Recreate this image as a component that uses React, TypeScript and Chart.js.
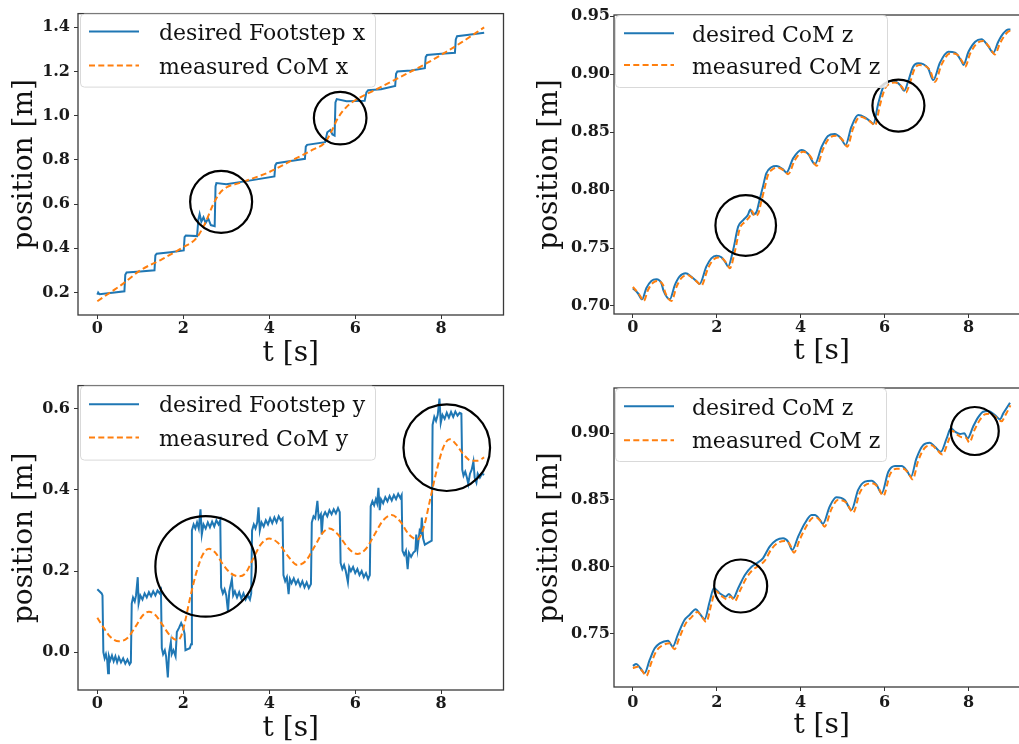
import React, { useEffect, useRef } from "react";
import { Chart, registerables } from "chart.js";

Chart.register(...registerables);

const BLUE = "#1f77b4";
const ORANGE = "#ff7f0e";
const FAMILY = "'DejaVu Serif', serif";

// ---------- shared ticks ----------
const xTickValues = [0, 2, 4, 6, 8];
const xTitle = "t [s]";
const yTitle = "position [m]";

// ---------- panel 1: footstep x ----------
const footXTimes = [0, 0.02, 0.05, 0.3, 0.63, 0.65, 0.68, 1.0, 1.33, 1.35, 1.38, 1.7, 2.01, 2.03, 2.06, 2.32, 2.35, 2.38, 2.42, 2.47, 2.52, 2.58, 2.64, 2.73, 2.75, 2.77, 3.0, 3.5, 4.12, 4.14, 4.17, 4.5, 4.83, 4.85, 4.88, 5.3, 5.35, 5.42, 5.47, 5.52, 5.54, 5.57, 5.8, 6.22, 6.26, 6.3, 6.6, 6.93, 6.95, 6.98, 7.3, 7.62, 7.64, 7.67, 8.0, 8.32, 8.34, 8.37, 8.6, 9.0];
const desiredFootstepX = [0.19, 0.2, 0.192, 0.198, 0.205, 0.28, 0.29, 0.295, 0.3, 0.368, 0.375, 0.382, 0.39, 0.45, 0.458, 0.455, 0.53, 0.555, 0.52, 0.54, 0.515, 0.535, 0.505, 0.5, 0.68, 0.695, 0.69, 0.705, 0.725, 0.775, 0.785, 0.795, 0.805, 0.86, 0.868, 0.88, 0.925, 0.935, 0.915, 0.91, 1.06, 1.075, 1.065, 1.068, 1.105, 1.115, 1.12, 1.135, 1.19, 1.2, 1.205, 1.215, 1.265, 1.275, 1.28, 1.285, 1.345, 1.36, 1.365, 1.375];
const comXTimes = [0, 0.3, 0.6, 1.0, 1.5, 2.0, 2.3, 2.5, 2.7, 2.85, 3.0, 3.3, 3.6, 4.0, 4.5, 5.0, 5.3, 5.45, 5.6, 5.8, 6.0, 6.5, 7.0, 7.5, 8.0, 8.5, 9.0];
const measuredCoMX = [0.16, 0.2, 0.24, 0.3, 0.35, 0.405, 0.445, 0.51, 0.6, 0.65, 0.675, 0.695, 0.715, 0.745, 0.795, 0.845, 0.88, 0.93, 0.99, 1.04, 1.07, 1.12, 1.17, 1.22, 1.275, 1.335, 1.4];
const circlesXTimes = [2.88, 5.65];
const circlesXValues = [0.61, 0.989];
const yTicksFootX = [0.2, 0.4, 0.6, 0.8, 1.0, 1.2, 1.4];

// ---------- panel 2: CoM z (top) ----------
const comZ1Times = [0, 0.12, 0.22, 0.32, 0.44, 0.56, 0.68, 0.73, 0.88, 1.0, 1.11, 1.26, 1.39, 1.53, 1.59, 1.75, 1.87, 1.99, 2.11, 2.21, 2.27, 2.39, 2.51, 2.63, 2.74, 2.8, 2.86, 2.95, 3.02, 3.1, 3.18, 3.3, 3.42, 3.58, 3.66, 3.82, 4.02, 4.18, 4.34, 4.5, 4.65, 4.81, 4.96, 5.07, 5.21, 5.37, 5.53, 5.67, 5.73, 5.85, 5.97, 6.09, 6.21, 6.37, 6.47, 6.56, 6.68, 6.8, 6.92, 7.04, 7.16, 7.32, 7.52, 7.68, 7.84, 7.88, 8.0, 8.16, 8.31, 8.47, 8.59, 8.71, 8.83, 8.95, 9.0];
const desiredCoMZ1 = [0.7153, 0.711, 0.7058, 0.7153, 0.7216, 0.723, 0.7196, 0.7132, 0.7058, 0.718, 0.7253, 0.7282, 0.7253, 0.721, 0.719, 0.7339, 0.7411, 0.7434, 0.742, 0.7374, 0.734, 0.7483, 0.7684, 0.7741, 0.7784, 0.7833, 0.779, 0.7813, 0.7914, 0.8029, 0.8144, 0.8196, 0.8207, 0.8178, 0.815, 0.8273, 0.8345, 0.831, 0.8224, 0.8373, 0.8466, 0.8483, 0.8446, 0.8388, 0.8546, 0.8647, 0.8627, 0.8589, 0.8569, 0.8747, 0.889, 0.8934, 0.8942, 0.8905, 0.8856, 0.8934, 0.9063, 0.9092, 0.9086, 0.9049, 0.8948, 0.9098, 0.9192, 0.9184, 0.9106, 0.9078, 0.9192, 0.9279, 0.93, 0.9241, 0.9184, 0.9279, 0.935, 0.9385, 0.9385];
const measZ1Times = [0, 0.16, 0.26, 0.36, 0.48, 0.6, 0.72, 0.77, 0.92, 1.04, 1.15, 1.3, 1.43, 1.57, 1.63, 1.79, 1.91, 2.03, 2.15, 2.25, 2.31, 2.43, 2.55, 2.67, 2.78, 2.84, 2.9, 2.99, 3.06, 3.14, 3.22, 3.34, 3.46, 3.62, 3.7, 3.86, 4.06, 4.22, 4.38, 4.54, 4.69, 4.85, 5.0, 5.11, 5.25, 5.41, 5.57, 5.71, 5.77, 5.89, 6.01, 6.13, 6.25, 6.41, 6.51, 6.6, 6.72, 6.84, 6.96, 7.08, 7.2, 7.36, 7.56, 7.72, 7.88, 7.92, 8.04, 8.2, 8.35, 8.51, 8.63, 8.75, 8.87, 8.98, 9.0];
const measuredCoMZ1 = [0.7165, 0.7095, 0.7043, 0.7138, 0.7201, 0.7215, 0.7181, 0.7117, 0.7043, 0.7165, 0.7238, 0.7267, 0.7238, 0.7195, 0.7175, 0.7324, 0.7396, 0.7419, 0.7405, 0.7359, 0.7325, 0.7468, 0.7669, 0.7726, 0.7769, 0.7818, 0.7775, 0.7798, 0.7899, 0.8014, 0.8129, 0.8181, 0.8192, 0.8163, 0.8135, 0.8258, 0.833, 0.8295, 0.8209, 0.8358, 0.8451, 0.8468, 0.8431, 0.8373, 0.8531, 0.8632, 0.8612, 0.8574, 0.8554, 0.8732, 0.8875, 0.8919, 0.8927, 0.889, 0.8841, 0.8919, 0.9048, 0.9077, 0.9071, 0.9034, 0.8933, 0.9083, 0.9177, 0.9169, 0.9091, 0.9063, 0.9177, 0.9264, 0.9285, 0.9226, 0.9169, 0.9264, 0.9335, 0.937, 0.937];
const circlesZ1Times = [2.69, 6.33];
const circlesZ1Values = [0.7694, 0.8728];
const yTicksZ1 = [0.7, 0.75, 0.8, 0.85, 0.9, 0.95];

// ---------- panel 3: footstep y ----------
const footYTimes = [0, 0.1, 0.12, 0.14, 0.17, 0.2, 0.23, 0.25, 0.27, 0.3, 0.34, 0.38, 0.42, 0.46, 0.5, 0.55, 0.6, 0.65, 0.7, 0.75, 0.78,
  0.8, 0.83, 0.87, 0.9, 0.94, 0.96, 1.0, 1.05, 1.1, 1.15, 1.2, 1.25, 1.3, 1.35, 1.4, 1.45, 1.48,
  1.5, 1.53, 1.57, 1.6, 1.64, 1.67, 1.71, 1.73, 1.77, 1.82, 1.85, 1.9, 1.95, 2.0, 2.03, 2.05, 2.15, 2.18,
  2.2, 2.24, 2.28, 2.32, 2.36, 2.4, 2.43, 2.47, 2.52, 2.57, 2.62, 2.67, 2.72, 2.77, 2.82, 2.86,
  2.88, 2.92, 2.96, 3.0, 3.04, 3.07, 3.13, 3.16, 3.2, 3.25, 3.3, 3.35, 3.4, 3.45, 3.5, 3.55, 3.58,
  3.6, 3.64, 3.68, 3.72, 3.75, 3.78, 3.82, 3.87, 3.92, 3.97, 4.02, 4.07, 4.12, 4.17, 4.22, 4.27, 4.31,
  4.33, 4.37, 4.41, 4.45, 4.48, 4.52, 4.57, 4.62, 4.67, 4.72, 4.77, 4.82, 4.87, 4.92, 4.97,
  4.99, 5.03, 5.07, 5.12, 5.15, 5.2, 5.22, 5.25, 5.3, 5.35, 5.4, 5.45, 5.5, 5.55, 5.6, 5.64,
  5.66, 5.7, 5.74, 5.78, 5.83, 5.86, 5.9, 5.95, 6.0, 6.05, 6.1, 6.15, 6.2, 6.25, 6.3, 6.34,
  6.36, 6.4, 6.44, 6.48, 6.51, 6.54, 6.57, 6.6, 6.65, 6.7, 6.75, 6.8, 6.85, 6.9, 6.95, 7.0, 7.05, 7.08,
  7.1, 7.14, 7.18, 7.22, 7.25, 7.3, 7.35, 7.4, 7.42, 7.45, 7.5, 7.53, 7.55, 7.58, 7.62, 7.7, 7.78,
  7.8, 7.84, 7.88, 7.92, 7.96, 7.99, 8.03, 8.08, 8.13, 8.18, 8.23, 8.28, 8.33, 8.38, 8.43, 8.47,
  8.49, 8.52, 8.56, 8.6, 8.63, 8.67, 8.71, 8.75, 8.78, 8.82, 8.85, 8.9, 8.95, 9.0];
const desiredFootstepY = [0.155, 0.145, 0.14, 0.0, -0.015, -0.005, -0.02, -0.052, -0.01, -0.02, -0.008, -0.022, -0.01, -0.025, -0.012, -0.025, -0.015, -0.028, -0.018, -0.03, -0.025,
  0.12, 0.135, 0.125, 0.14, 0.185, 0.12, 0.14, 0.13, 0.145, 0.135, 0.148, 0.138, 0.15, 0.14, 0.152, 0.145, 0.152,
  0.01, -0.005, 0.005, -0.01, -0.062, 0.0, 0.025, -0.005, 0.005, -0.01, 0.05, 0.06, 0.072, 0.06, 0.045, 0.005, 0.01, 0.02,
  0.3, 0.315, 0.305, 0.32, 0.305, 0.352, 0.29, 0.315, 0.305, 0.32, 0.308, 0.322, 0.31, 0.325, 0.315, 0.325,
  0.16, 0.145, 0.155, 0.14, 0.1, 0.15, 0.18, 0.14, 0.15, 0.135, 0.148, 0.132, 0.145, 0.13, 0.14, 0.13, 0.145,
  0.3, 0.315, 0.305, 0.32, 0.357, 0.3, 0.32, 0.31, 0.325, 0.315, 0.33, 0.318, 0.332, 0.32, 0.335, 0.325, 0.33,
  0.19, 0.175, 0.185, 0.143, 0.18, 0.17, 0.182, 0.168, 0.178, 0.163, 0.175, 0.16, 0.172, 0.158, 0.168,
  0.32, 0.335, 0.33, 0.373, 0.33, 0.34, 0.29, 0.335, 0.345, 0.335, 0.35, 0.34, 0.352, 0.342, 0.355, 0.345,
  0.22, 0.205, 0.215, 0.2, 0.172, 0.21, 0.2, 0.21, 0.195, 0.205, 0.19, 0.2, 0.185, 0.195, 0.18, 0.19,
  0.36, 0.372, 0.362, 0.377, 0.367, 0.405, 0.35, 0.377, 0.367, 0.382, 0.372, 0.385, 0.374, 0.387, 0.377, 0.39, 0.38, 0.387,
  0.25, 0.24, 0.25, 0.205, 0.245, 0.235, 0.245, 0.25, 0.29, 0.255, 0.3, 0.295, 0.332, 0.28, 0.265, 0.27, 0.275,
  0.56, 0.58, 0.57, 0.585, 0.625, 0.565, 0.585, 0.575, 0.59, 0.578, 0.592, 0.58, 0.593, 0.583, 0.59, 0.588,
  0.45, 0.435, 0.445, 0.43, 0.415, 0.44, 0.45, 0.47, 0.43, 0.418, 0.44, 0.43, 0.44, 0.437];
const comYTimes = [0, 0.15, 0.3, 0.5, 0.7, 0.9, 1.05, 1.2, 1.35, 1.5, 1.7, 1.85, 1.95, 2.05, 2.15, 2.3, 2.45, 2.6, 2.75, 2.9, 3.1, 3.3, 3.45, 3.6, 3.8, 4.0, 4.2, 4.45, 4.65, 4.85, 5.05, 5.25, 5.4, 5.6, 5.85, 6.05, 6.25, 6.45, 6.65, 6.85, 7.05, 7.25, 7.45, 7.6, 7.75, 7.9, 8.05, 8.2, 8.35, 8.5, 8.7, 8.85, 9.0];
const measuredCoMY = [0.085, 0.06, 0.038, 0.027, 0.035, 0.065, 0.09, 0.1, 0.092, 0.07, 0.04, 0.03, 0.04, 0.08, 0.13, 0.195, 0.24, 0.255, 0.245, 0.22, 0.195, 0.187, 0.195, 0.225, 0.265, 0.28, 0.27, 0.235, 0.215, 0.225, 0.26, 0.295, 0.305, 0.29, 0.255, 0.242, 0.255, 0.29, 0.325, 0.338, 0.322, 0.29, 0.278, 0.31, 0.38, 0.45, 0.505, 0.525, 0.512, 0.49, 0.472, 0.472, 0.48];
const circlesYTimes = [2.52, 8.13];
const circlesYValues = [0.2115, 0.504];
const yTicksFootY = [0.0, 0.2, 0.4, 0.6];

// ---------- panel 4: CoM z (bottom) ----------
const comZ2Times = [0, 0.08, 0.18, 0.28, 0.4, 0.52, 0.64, 0.84, 0.95, 1.07, 1.23, 1.35, 1.5, 1.59, 1.71, 1.83, 1.93, 2.07, 2.21, 2.29, 2.39, 2.51, 2.67, 2.83, 2.95, 3.1, 3.26, 3.42, 3.58, 3.7, 3.8, 3.94, 4.1, 4.26, 4.34, 4.46, 4.53, 4.69, 4.85, 5.05, 5.21, 5.37, 5.53, 5.69, 5.81, 5.93, 6.09, 6.25, 6.41, 6.53, 6.63, 6.76, 6.92, 7.08, 7.2, 7.34, 7.48, 7.58, 7.68, 7.8, 7.9, 7.98, 8.11, 8.23, 8.35, 8.47, 8.63, 8.75, 8.83, 8.99];
const desiredCoMZ2 = [0.7261, 0.7276, 0.7244, 0.7207, 0.7306, 0.7393, 0.743, 0.745, 0.7405, 0.7493, 0.7604, 0.7642, 0.7684, 0.7654, 0.761, 0.7741, 0.7841, 0.7804, 0.7778, 0.7799, 0.7766, 0.7841, 0.794, 0.8002, 0.8027, 0.8065, 0.8152, 0.8201, 0.8214, 0.8189, 0.8127, 0.8226, 0.8326, 0.8388, 0.8388, 0.8351, 0.8321, 0.845, 0.852, 0.85, 0.8425, 0.8575, 0.8637, 0.8644, 0.8612, 0.855, 0.8711, 0.8754, 0.8754, 0.8719, 0.8674, 0.8811, 0.891, 0.8928, 0.8898, 0.886, 0.896, 0.9035, 0.901, 0.8993, 0.8998, 0.896, 0.9047, 0.9117, 0.9159, 0.9164, 0.9134, 0.9102, 0.9147, 0.9226];
const measZ2Times = [0, 0.12, 0.22, 0.32, 0.44, 0.56, 0.68, 0.88, 0.99, 1.11, 1.27, 1.39, 1.54, 1.63, 1.75, 1.87, 1.97, 2.11, 2.25, 2.33, 2.43, 2.55, 2.71, 2.87, 2.99, 3.14, 3.3, 3.46, 3.62, 3.74, 3.84, 3.98, 4.14, 4.3, 4.38, 4.5, 4.57, 4.73, 4.89, 5.09, 5.25, 5.41, 5.57, 5.73, 5.85, 5.97, 6.13, 6.29, 6.45, 6.57, 6.67, 6.8, 6.96, 7.12, 7.24, 7.38, 7.52, 7.62, 7.72, 7.84, 7.94, 8.02, 8.15, 8.27, 8.39, 8.51, 8.67, 8.79, 8.87, 9.0];
const measuredCoMZ2 = [0.7245, 0.7256, 0.7224, 0.7187, 0.7286, 0.7373, 0.741, 0.743, 0.7385, 0.7473, 0.7584, 0.7622, 0.7664, 0.7634, 0.759, 0.7721, 0.7821, 0.7784, 0.7758, 0.7779, 0.7746, 0.7821, 0.792, 0.7982, 0.8007, 0.8045, 0.8132, 0.8181, 0.8194, 0.8169, 0.8107, 0.8206, 0.8306, 0.8368, 0.8368, 0.8331, 0.8301, 0.843, 0.85, 0.848, 0.8405, 0.8555, 0.8617, 0.8624, 0.8592, 0.853, 0.8691, 0.8734, 0.8734, 0.8699, 0.8654, 0.8791, 0.889, 0.8908, 0.8878, 0.884, 0.894, 0.9015, 0.899, 0.8968, 0.8965, 0.893, 0.9027, 0.9097, 0.9139, 0.9144, 0.9114, 0.9087, 0.9127, 0.9206];
const circlesZ2Times = [2.57, 8.15];
const circlesZ2Values = [0.7858, 0.9015];
const yTicksZ2 = [0.75, 0.8, 0.85, 0.9];

// ---------- helpers ----------
const pts = (t: number[], v: number[]) => t.map((x, i) => ({ x, y: v[i] }));

type LegendCfg = {
  dx: number; dy: number; w: number; h: number;
  rows: number[]; bases: number[]; textX: number; labels: string[];
};

type PanelCfg = {
  left: number; top: number; width: number; height: number;
  padTop: number; padRight: number; yAxisWidth: number; xAxisHeight: number;
  yMin: number; yMax: number; yTicks: number[]; yDecimals: number;
  yTickPad: number; xTickPad: number; yTitlePad: number; xTitlePad: number;
  blue: { x: number; y: number }[]; orange: { x: number; y: number }[];
  blueSteps: boolean;
  circles: { x: number; y: number }[]; radii: number[];
  legend: LegendCfg;
};

function makeOverlay(cfg: PanelCfg) {
  const L = cfg.legend;
  return {
    id: "frameAndLegend",
    afterDatasetsDraw(chart: any) {
      const { ctx, chartArea: a, scales } = chart;
      ctx.save();
      // annotation circles, placed through the chart scales
      ctx.strokeStyle = "#000";
      ctx.lineWidth = 2.2;
      ctx.setLineDash([]);
      cfg.circles.forEach((c, i) => {
        const px = scales.x.getPixelForValue(c.x);
        const py = scales.y.getPixelForValue(c.y);
        ctx.beginPath();
        ctx.arc(px, py, cfg.radii[i], 0, Math.PI * 2);
        ctx.stroke();
      });
      // axes frame
      ctx.strokeStyle = "#3a3a3a";
      ctx.lineWidth = 1.3;
      ctx.strokeRect(a.left, a.top, a.right - a.left, a.bottom - a.top);
      // legend box
      const x0 = a.left + L.dx;
      const y0 = a.top + L.dy;
      ctx.beginPath();
      (ctx as any).roundRect(x0 + 0.5, y0 + 0.5, L.w, L.h, 4);
      ctx.fillStyle = "rgba(255,255,255,0.85)";
      ctx.fill();
      ctx.strokeStyle = "#d9d9d9";
      ctx.lineWidth = 1;
      ctx.stroke();
      const colors = [BLUE, ORANGE];
      const dashes = [[], [6, 3.3]];
      L.labels.forEach((label, i) => {
        ctx.beginPath();
        ctx.strokeStyle = colors[i];
        ctx.lineWidth = 2;
        ctx.setLineDash(dashes[i]);
        ctx.moveTo(x0 + 9, y0 + L.rows[i]);
        ctx.lineTo(x0 + 59, y0 + L.rows[i]);
        ctx.stroke();
        ctx.setLineDash([]);
        ctx.fillStyle = "#111";
        ctx.font = `22px ${FAMILY}`;
        ctx.textAlign = "left";
        ctx.textBaseline = "alphabetic";
        ctx.fillText(label, x0 + L.textX, y0 + L.bases[i]);
      });
      ctx.restore();
    },
  };
}

function Panel({ cfg }: { cfg: PanelCfg }) {
  const ref = useRef<HTMLCanvasElement>(null);
  useEffect(() => {
    const tickFont = { family: FAMILY, size: 16, weight: "bold" as const };
    const titleFont = { family: FAMILY, size: 28 };
    const grid = { display: true, drawOnChartArea: false, drawTicks: true, tickLength: 4, color: "#333", lineWidth: 1 };
    const chart = new Chart(ref.current as HTMLCanvasElement, {
      type: "line",
      data: {
        datasets: [
          {
            label: "measured",
            data: cfg.orange,
            borderColor: ORANGE,
            borderWidth: 2,
            borderDash: [6, 3.3],
            pointRadius: 0,
            fill: false,
            tension: 0,
            cubicInterpolationMode: "monotone",
          },
          {
            label: "desired",
            data: cfg.blue,
            borderColor: BLUE,
            borderWidth: 2,
            pointRadius: 0,
            fill: false,
            tension: 0,
            cubicInterpolationMode: cfg.blueSteps ? "default" : "monotone",
          },
        ],
      },
      options: {
        animation: false,
        responsive: false,
        maintainAspectRatio: false,
        devicePixelRatio: 1,
        events: [],
        layout: { padding: { left: 0, top: cfg.padTop, right: cfg.padRight, bottom: 0 } },
        plugins: { legend: { display: false }, tooltip: { enabled: false } },
        scales: {
          x: {
            type: "linear",
            min: -0.45,
            max: 9.45,
            afterBuildTicks: (s: any) => { s.ticks = xTickValues.map((v) => ({ value: v })); },
            afterFit: (s: any) => { s.height = cfg.xAxisHeight; },
            ticks: { font: tickFont, color: "#1a1a1a", padding: cfg.xTickPad, maxRotation: 0, callback: (v: any) => String(v) },
            grid,
            border: { display: false },
            title: { display: true, text: xTitle, font: titleFont, color: "#111", padding: { top: 0, bottom: cfg.xTitlePad } },
          },
          y: {
            type: "linear",
            min: cfg.yMin,
            max: cfg.yMax,
            afterBuildTicks: (s: any) => { s.ticks = cfg.yTicks.map((v) => ({ value: v })); },
            afterFit: (s: any) => { s.width = cfg.yAxisWidth; },
            ticks: { font: tickFont, color: "#1a1a1a", padding: cfg.yTickPad, callback: (v: any) => Number(v).toFixed(cfg.yDecimals) },
            grid,
            border: { display: false },
            title: { display: true, text: yTitle, font: titleFont, color: "#111", padding: { top: cfg.yTitlePad, bottom: 0 } },
          },
        },
      },
      plugins: [makeOverlay(cfg)],
    } as any);
    return () => chart.destroy();
  }, [cfg]);
  return (
    <canvas
      ref={ref}
      width={cfg.width}
      height={cfg.height}
      style={{ position: "absolute", left: cfg.left, top: cfg.top, width: cfg.width, height: cfg.height }}
    />
  );
}

const panels: PanelCfg[] = [
  {
    left: 0, top: 0, width: 510, height: 372,
    padTop: 10, padRight: 6.5, yAxisWidth: 78, xAxisHeight: 57,
    yMin: 0.098, yMax: 1.462, yTicks: yTicksFootX, yDecimals: 1,
    yTickPad: 4, xTickPad: 0, yTitlePad: 8, xTitlePad: 1.7,
    blue: pts(footXTimes, desiredFootstepX), orange: pts(comXTimes, measuredCoMX),
    blueSteps: true,
    circles: pts(circlesXTimes, circlesXValues), radii: [31, 26.3],
    legend: { dx: 2, dy: 0, w: 295, h: 73, rows: [18, 52], bases: [26, 60], textX: 79, labels: ["desired Footstep x", "measured CoM x"] },
  },
  {
    left: 510, top: 0, width: 520, height: 372,
    padTop: 15, padRight: 0.7, yAxisWidth: 104, xAxisHeight: 58,
    yMin: 0.6931, yMax: 0.9509, yTicks: yTicksZ1, yDecimals: 2,
    yTickPad: 0, xTickPad: 0, yTitlePad: 22.7, xTitlePad: 3.2,
    blue: pts(comZ1Times, desiredCoMZ1), orange: pts(measZ1Times, measuredCoMZ1),
    blueSteps: false,
    circles: pts(circlesZ1Times, circlesZ1Values), radii: [30.3, 26],
    legend: { dx: 1, dy: 0, w: 272, h: 72, rows: [18.3, 50], bases: [26.7, 59], textX: 77, labels: ["desired CoM z", "measured CoM z"] },
  },
  {
    left: 0, top: 372, width: 510, height: 380,
    padTop: 13, padRight: 6.5, yAxisWidth: 78, xAxisHeight: 62,
    yMin: -0.093, yMax: 0.657, yTicks: yTicksFootY, yDecimals: 1,
    yTickPad: 4, xTickPad: 0, yTitlePad: 8, xTitlePad: 6.2,
    blue: pts(footYTimes, desiredFootstepY), orange: pts(comYTimes, measuredCoMY),
    blueSteps: true,
    circles: pts(circlesYTimes, circlesYValues), radii: [50.3, 43.3],
    legend: { dx: 2, dy: 0, w: 295, h: 74, rows: [18.7, 52], bases: [26.3, 60.3], textX: 79, labels: ["desired Footstep y", "measured CoM y"] },
  },
  {
    left: 510, top: 372, width: 520, height: 380,
    padTop: 16, padRight: 0.7, yAxisWidth: 104, xAxisHeight: 65,
    yMin: 0.7104, yMax: 0.9336, yTicks: yTicksZ2, yDecimals: 2,
    yTickPad: 0, xTickPad: 2.4, yTitlePad: 22.7, xTitlePad: 9.2,
    blue: pts(comZ2Times, desiredCoMZ2), orange: pts(measZ2Times, measuredCoMZ2),
    blueSteps: false,
    circles: pts(circlesZ2Times, circlesZ2Values), radii: [26.5, 24],
    legend: { dx: 1, dy: 0, w: 271, h: 73, rows: [18.3, 52.3], bases: [26.7, 60], textX: 77, labels: ["desired CoM z", "measured CoM z"] },
  },
];

export default function App() {
  return (
    <div style={{ position: "absolute", left: 0, top: 0, width: 1019, height: 744, overflow: "hidden", background: "#fff" }}>
      {panels.map((p, i) => (
        <Panel key={i} cfg={p} />
      ))}
    </div>
  );
}
